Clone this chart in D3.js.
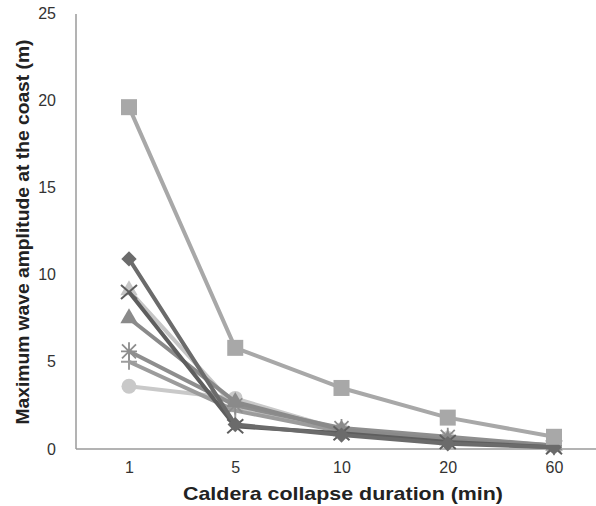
<!DOCTYPE html>
<html><head><meta charset="utf-8">
<script src="https://cdn.jsdelivr.net/npm/d3@7"></script>
<style>body{margin:0;background:#fff}svg{display:block}</style>
</head><body>
<script>
const categories = ["1","5","10","20","60"];
const yTicks = [0,5,10,15,20,25];
const sSquare   = [19.6, 5.8, 3.5, 1.8, 0.7];
const sDiamond  = [10.9, 1.4, 0.8, 0.3, 0.1];
const sX        = [9.0, 1.3, 0.9, 0.4, 0.1];
const sLight    = [9.1, 2.4, 1.0, 0.6, 0.2];
const sTriangle = [7.5, 2.7, 1.1, 0.5, 0.2];
const sAsterisk = [5.6, 2.5, 1.2, 0.7, 0.2];
const sPlus     = [5.0, 2.2, 1.0, 0.5, 0.1];
const sCircle   = [3.6, 2.9, 1.1, 0.6, 0.2];

const series = [
  {v:sCircle,   c:"#c9c9c9", m:"circle"},
  {v:sLight,    c:"#c6c6c6", m:"tri"},
  {v:sPlus,     c:"#9c9c9c", m:"plus"},
  {v:sAsterisk, c:"#8e8e8e", m:"asterisk"},
  {v:sTriangle, c:"#8a8a8a", m:"tri"},
  {v:sX,        c:"#5e5e5e", m:"x"},
  {v:sDiamond,  c:"#6b6b6b", m:"diamond"},
  {v:sSquare,   c:"#a8a8a8", m:"square"}
];

const W=596,H=506;
const FONT="Liberation Sans, Arial, sans-serif";
const svg=d3.select("body").append("svg").attr("width",W).attr("height",H);
const x=d3.scalePoint().domain(categories).range([129,554]);
const y=d3.scaleLinear().domain([0,25]).range([449,13]);

const gx=svg.append("g").attr("transform","translate(0,449)")
  .call(d3.axisBottom(x).tickSize(0).tickPadding(13));
gx.select(".domain").remove();
svg.append("line").attr("x1",76).attr("x2",596).attr("y1",449).attr("y2",449).attr("stroke","#9a9a9a").attr("stroke-width",1.5);
const gy=svg.append("g").attr("transform","translate(76,0)")
  .call(d3.axisLeft(y).tickValues(yTicks).tickSize(0).tickPadding(20));
gy.select(".domain").remove();
svg.append("line").attr("x1",76).attr("x2",76).attr("y1",14).attr("y2",449).attr("stroke","#9a9a9a").attr("stroke-width",1.5);
svg.selectAll(".tick text").attr("font-family",FONT).attr("font-size",16).attr("fill","#333");

svg.append("text").attr("x",343).attr("y",500).attr("text-anchor","middle")
  .attr("font-family",FONT).attr("font-weight","bold").attr("font-size",19).attr("fill","#222")
  .attr("textLength",320).attr("lengthAdjust","spacingAndGlyphs")
  .text("Caldera collapse duration (min)");
svg.append("text").attr("transform","translate(29,232) rotate(-90)").attr("text-anchor","middle")
  .attr("font-family",FONT).attr("font-weight","bold").attr("font-size",19).attr("fill","#222")
  .attr("textLength",385).attr("lengthAdjust","spacingAndGlyphs")
  .text("Maximum wave amplitude at the coast (m)");

const line=d3.line().x((d,i)=>x(categories[i])).y(d=>y(d));
function marker(g,type,c){
  if(type==="circle") g.append("circle").attr("r",7.5).attr("fill",c);
  else if(type==="square") g.append("rect").attr("x",-8).attr("y",-8).attr("width",16).attr("height",16).attr("fill",c);
  else if(type==="diamond") g.append("path").attr("d",d3.symbol(d3.symbolDiamond2,150)()).attr("fill",c);
  else if(type==="tri") g.append("path").attr("d",d3.symbol(d3.symbolTriangle,130)()).attr("fill",c);
  else if(type==="x"){ g.append("path").attr("d","M-8,-7L8,7M-8,7L8,-7").attr("stroke",c).attr("stroke-width",2).attr("fill","none"); }
  else if(type==="plus"){ g.append("path").attr("d","M-8,0L8,0M0,-8L0,8").attr("stroke",c).attr("stroke-width",2).attr("fill","none"); }
  else if(type==="asterisk"){ g.append("path").attr("d","M-8,0L8,0M0,-9L0,9M-7,-7L7,7M-7,7L7,-7").attr("stroke",c).attr("stroke-width",1.8).attr("fill","none"); }
}
series.forEach(s=>{
  const g=svg.append("g");
  g.append("path").datum(s.v).attr("d",line).attr("fill","none").attr("stroke",s.c).attr("stroke-width",4).attr("stroke-linejoin","round");
  s.v.forEach((d,i)=>{
    const mg=g.append("g").attr("transform",`translate(${x(categories[i])},${y(d)})`);
    marker(mg,s.m,s.c);
  });
});
</script>
</body></html>
